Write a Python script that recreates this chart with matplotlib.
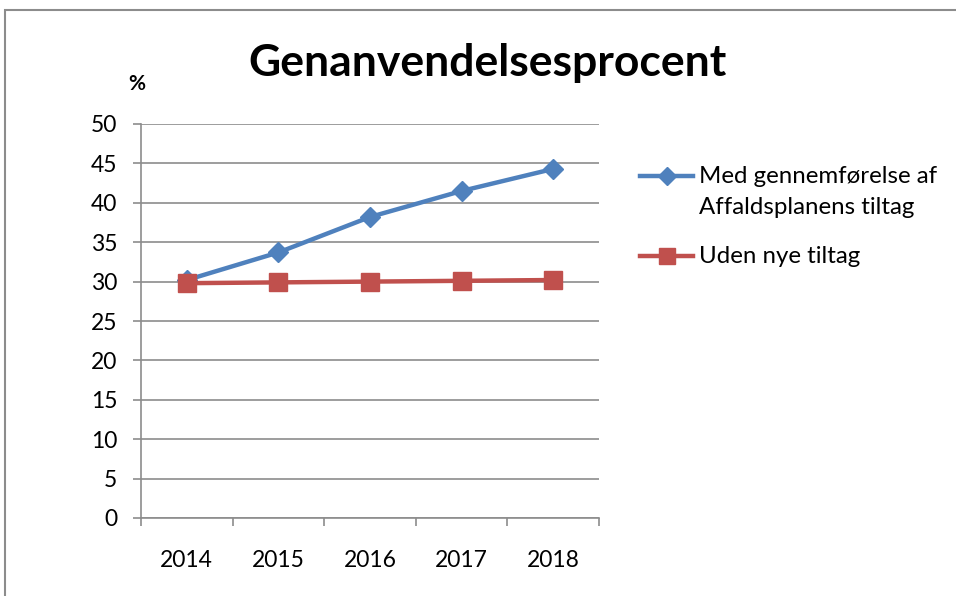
import matplotlib
matplotlib.use("Agg")
import matplotlib.pyplot as plt
from matplotlib.lines import Line2D
from matplotlib.patches import Rectangle

years = ["2014", "2015", "2016", "2017", "2018"]
med_tiltag = [30.2, 33.7, 38.2, 41.5, 44.3]
uden_tiltag = [29.8, 29.9, 30.0, 30.1, 30.2]
series_names = ["Med gennemførelse af\nAffaldsplanens tiltag", "Uden nye tiltag"]
yticks = [0, 5, 10, 15, 20, 25, 30, 35, 40, 45, 50]

plt.rcParams['font.family'] = ['Lato', 'DejaVu Sans']

W, H = 956, 596
fig = plt.figure(figsize=(W / 100, H / 100), dpi=100)

# outer chart border (top and left visible)
fig.add_artist(Rectangle((5 / W, -0.1), 1.2, 1 - 10 / H + 0.1, transform=fig.transFigure,
                         fill=False, edgecolor="#8c8c8c", linewidth=1.5))

ax = fig.add_axes([141 / W, 1 - 518 / H, (599 - 141) / W, (518 - 124) / H])
x = list(range(len(years)))
blue = "#4F81BD"
red = "#C0504D"
ax.plot(x, med_tiltag, color=blue, linewidth=3.2, marker="D", markersize=10, zorder=3)
ax.plot(x, uden_tiltag, color=red, linewidth=3.2, marker="s", markersize=12.5, zorder=4)

ax.set_xlim(-0.5, len(years) - 0.5)
ax.set_ylim(0, 50)
ax.set_yticks(yticks)
ax.set_yticklabels([str(v) for v in yticks], fontsize=16.5)
ax.set_xticks(x)
ax.set_xticklabels(years, fontsize=16.5)
ax.set_xticks([i - 0.5 for i in range(len(years) + 1)], minor=True)
ax.tick_params(axis="x", which="major", length=0, pad=23)
ax.tick_params(axis="x", which="minor", length=6, color="#8c8c8c", width=1.2)
ax.tick_params(axis="y", which="major", length=6, color="#8c8c8c", width=1.2, pad=11)
ax.grid(axis="y", color="#8c8c8c", linewidth=1.2)
ax.set_axisbelow(True)
for s in ["top", "right"]:
    ax.spines[s].set_visible(False)
for s in ["left", "bottom"]:
    ax.spines[s].set_color("#8c8c8c")
    ax.spines[s].set_linewidth(1.2)

fig.text(488 / W, 1 - 63 / H, "Genanvendelsesprocent", fontsize=32, fontweight="bold",
         ha="center", va="center")
fig.text(137 / W, 1 - 84 / H, "%", fontsize=15, fontweight="bold", ha="center", va="center")

# legend
legend_items = [(series_names[0], blue, "D", 9, 176), (series_names[1], red, "s", 11.5, 256)]
for name, col, mk, ms, yy in legend_items:
    yf = 1 - yy / H
    fig.add_artist(Line2D([640 / W, 693 / W], [yf, yf], transform=fig.transFigure,
                          color=col, linewidth=3.2))
    fig.add_artist(Line2D([666.5 / W], [yf], transform=fig.transFigure, color=col,
                          marker=mk, markersize=ms, linestyle="none"))
    fig.text(699 / W, yf + 10 / H, name, fontsize=17.3, ha="left", va="top", linespacing=1.6)

fig.savefig("out.png", dpi=100)
